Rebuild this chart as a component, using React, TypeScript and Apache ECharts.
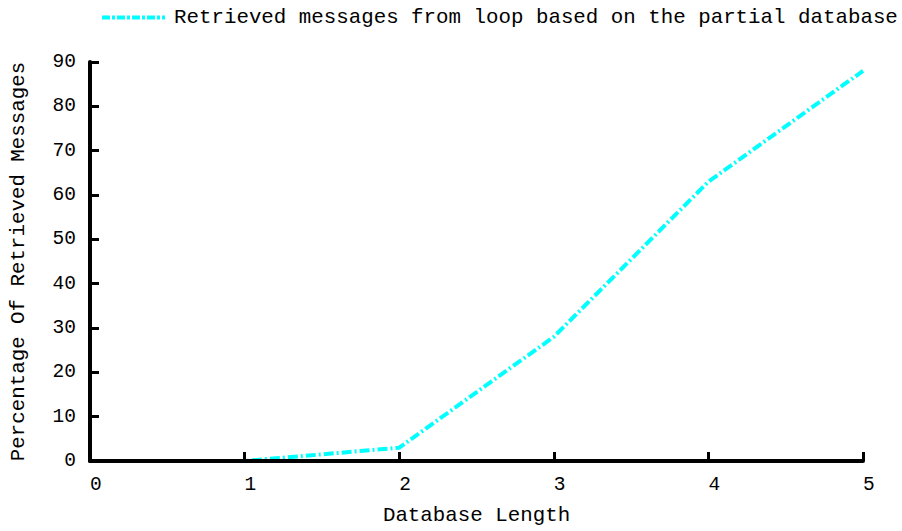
import React, { useEffect, useRef } from "react";
import * as echarts from "echarts";

// Share of messages retrieved by the loop, per database length
const databaseLengths = [0, 1, 2, 3, 4, 5];
const retrievedPercent = [0, 0, 3, 28, 63, 88];
const seriesName = "Retrieved messages from loop based on the partial database";
const xTitle = "Database Length";
const yTitle = "Percentage Of Retrieved Messages";

const FONT = "'Liberation Mono', 'Courier New', monospace";
const LINE_COLOR = "#00ffff";
const DASH_DOT = [10, 3, 2, 3];

export default function App() {
  const ref = useRef<HTMLDivElement>(null);

  useEffect(() => {
    if (!ref.current) return;
    const chart = echarts.init(ref.current, null, { renderer: "svg" });
    const points = databaseLengths.map((x, i) => [x, retrievedPercent[i]]);

    chart.setOption({
      animation: false,
      backgroundColor: "#ffffff",
      textStyle: { fontFamily: FONT },
      grid: { left: 88, right: 39, top: 62, bottom: 66, containLabel: false },
      legend: {
        show: true,
        left: 100,
        top: 7,
        padding: 0,
        itemWidth: 63,
        itemHeight: 20,
        itemGap: 10,
        // keep only the dash-dot stroke in the key, no marker dot
        itemStyle: { opacity: 0 },
        lineStyle: { width: 4, color: LINE_COLOR, type: [8, 2, 3, 2] },
        textStyle: { fontFamily: FONT, fontSize: 20.8, color: "#000", padding: [0, 0, 0, 4] },
        data: [{ name: seriesName }],
      },
      xAxis: {
        type: "value",
        min: 0,
        max: 5,
        interval: 1,
        z: 3,
        name: xTitle,
        nameLocation: "middle",
        nameGap: 44,
        nameTextStyle: { fontFamily: FONT, fontSize: 20.8, color: "#000" },
        axisLine: { show: true, lineStyle: { color: "#000", width: 4 } },
        axisTick: { show: true, inside: true, length: 9, lineStyle: { color: "#000", width: 3 } },
        axisLabel: {
          fontFamily: FONT,
          fontSize: 19.5,
          color: "#000",
          margin: 14,
          align: "left",
        },
        splitLine: { show: false },
      },
      yAxis: {
        type: "value",
        min: 0,
        max: 90,
        interval: 10,
        z: 3,
        name: yTitle,
        nameLocation: "middle",
        nameGap: 61,
        nameTextStyle: { fontFamily: FONT, fontSize: 20.8, color: "#000" },
        axisLine: { show: true, lineStyle: { color: "#000", width: 4 } },
        axisTick: { show: true, inside: true, length: 9, lineStyle: { color: "#000", width: 3 } },
        axisLabel: { fontFamily: FONT, fontSize: 19.5, color: "#000", margin: 14 },
        splitLine: { show: false },
      },
      series: [
        {
          name: seriesName,
          type: "line",
          z: 1,
          data: points,
          symbol: "none",
          showSymbol: false,
          lineStyle: { color: LINE_COLOR, width: 4, type: DASH_DOT },
          itemStyle: { color: LINE_COLOR },
        },
      ],
    });

    return () => chart.dispose();
  }, []);

  return <div ref={ref} style={{ width: 902, height: 531, position: "absolute", left: 0, top: 0 }} />;
}
